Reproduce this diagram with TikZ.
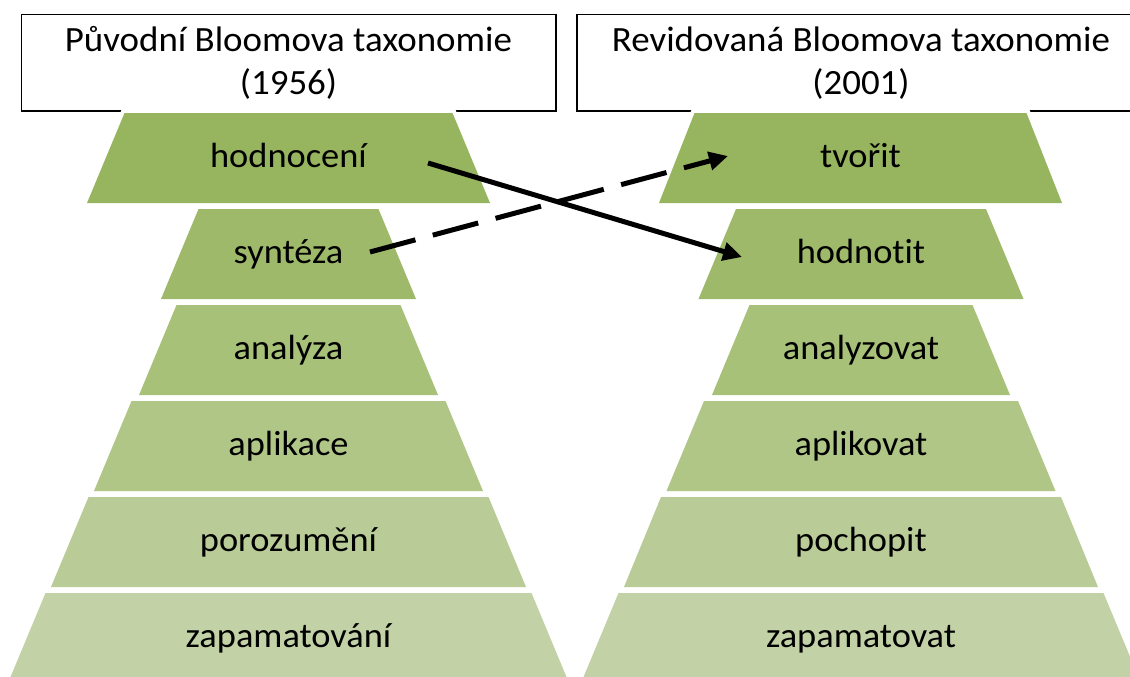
\documentclass[tikz,border=0pt]{standalone}
\usepackage{fontspec}
\setmainfont{Carlito}[FakeStretch=1.04,Ligatures=NoCommon]
\usetikzlibrary{arrows.meta}
\definecolor{g1}{RGB}{151,180,95}
\definecolor{g2}{RGB}{158,185,106}
\definecolor{g3}{RGB}{168,193,121}
\definecolor{g4}{RGB}{176,198,135}
\definecolor{g5}{RGB}{185,204,151}
\definecolor{g6}{RGB}{194,210,166}
\newcommand\mytrap[5]{% cx, ytop, topw, botw, colour
  \path[preaction={draw=white,line width=8pt,line join=miter},fill=#5]
    ({#1-#3/2},#2) -- ({#1+#3/2},#2) -- ({#1+#4/2},{#2+90}) -- ({#1-#4/2},{#2+90}) -- cycle;}
\begin{document}
\begin{tikzpicture}[x=1pt,y=-1pt,
  titlebox/.style={draw=black,line width=1.6pt,fill=white},
  titletext/.style={align=center,anchor=base,inner sep=0pt,font=\fontsize{35.5}{42.5}\selectfont},
  lvl/.style={anchor=base,inner sep=0pt,font=\fontsize{35}{42}\selectfont},
  conn/.style={line width=5pt,-{Triangle[length=19pt,width=18pt]}},
  dashconn/.style={conn,dash pattern=on 47pt off 18pt}]
\useasboundingbox (0,0) rectangle (1130,677);
% title boxes
\draw[titlebox] (21.5,14.5) rectangle (556,111);
\draw[titlebox] (577,14.5) rectangle (1145,111);
\node[titletext] (tl) at (288.5,94.3) {Původní Bloomova taxonomie\\(1956)};
\node[titletext] (tr) at (861,94.3) {Revidovaná Bloomova taxonomie\\(2001)};
% left pyramid
\mytrap{288.5}{113}{328}{403}{g1}
\mytrap{288.5}{209}{180}{255}{g2}
\mytrap{288.5}{305}{224}{299}{g3}
\mytrap{288.5}{401}{314}{389}{g4}
\mytrap{288.5}{497}{400}{475}{g5}
\mytrap{288.5}{593}{486}{561}{g6}
% right pyramid
\mytrap{860.5}{113}{332}{403}{g1}
\mytrap{861}{209}{250}{325}{g2}
\mytrap{861}{305}{223}{298}{g3}
\mytrap{861}{401}{314}{389}{g4}
\mytrap{861}{497}{400}{474}{g5}
\mytrap{861}{593}{485}{560}{g6}
% labels
\node[lvl] (hod) at (288.5,167.5) {hodnocení};
\node[lvl] (syn) at (288.5,263.5) {syntéza};
\node[lvl] (ana) at (288.5,359.5) {analýza};
\node[lvl] (apl) at (288.5,455.5) {aplikace};
\node[lvl] (por) at (288.5,551.5) {porozumění};
\node[lvl] (zap) at (288.5,647.5) {zapamatování};
\node[lvl] (tvo) at (860.5,167.5) {tvořit};
\node[lvl] (hdt) at (861,263.5) {hodnotit};
\node[lvl] (anz) at (861,359.5) {analyzovat};
\node[lvl] (apk) at (861,455.5) {aplikovat};
\node[lvl] (poc) at (861,551.5) {pochopit};
\node[lvl] (zpm) at (861,647.5) {zapamatovat};
% connectors
\coordinate (hodout) at (428,163);
\coordinate (hdtin) at (742,257);
\coordinate (synout) at (370,252);
\coordinate (tvoin) at (728,156);
\draw[conn] (hodout) -- (hdtin);
\draw[dashconn] (synout) -- (tvoin);
\end{tikzpicture}
\end{document}
